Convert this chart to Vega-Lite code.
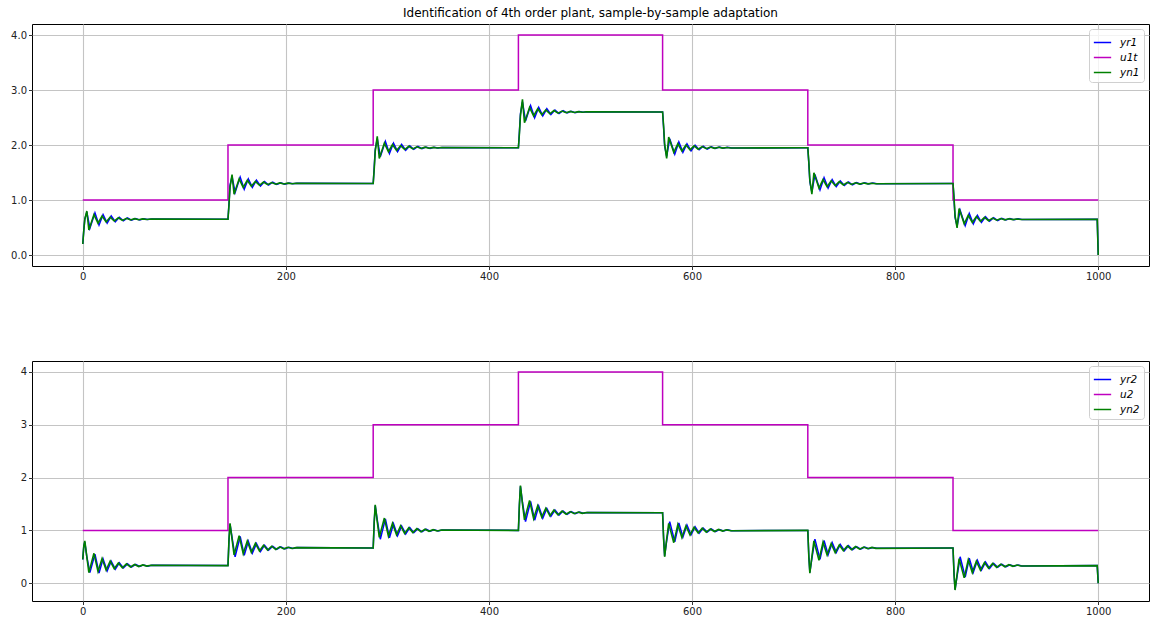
{
  "$schema": "https://vega.github.io/schema/vega-lite/v6.json",
  "background": "white",
  "padding": {"left": 0, "top": 6, "right": 5, "bottom": 0},
  "config": {
    "font": "DejaVu Sans",
    "view": {"stroke": "#000000", "strokeWidth": 1},
    "axis": {"grid": true, "gridColor": "#c4c4c4", "gridWidth": 1.1, "domain": false, "tickColor": "#000000", "tickSize": 3.5, "tickWidth": 0.8, "labelFont": "DejaVu Sans", "labelFontSize": 10, "labelColor": "#222222", "labelPadding": 2, "title": null},
    "title": {"font": "DejaVu Sans", "fontSize": 12, "fontWeight": "normal", "color": "#000000"}
  },
  "datasets": {
    "u": [
      {"x": 0, "u": 1}, {"x": 143, "u": 2}, {"x": 286, "u": 3}, {"x": 429, "u": 4},
      {"x": 571, "u": 3}, {"x": 714, "u": 2}, {"x": 857, "u": 1}, {"x": 1000, "u": 1}
    ],
    "yn": [
      {"x":0,"t":0.2,"b":0.45},{"x":1,"t":0.45,"b":0.7},{"x":2,"t":0.65,"b":0.8},{"x":4,"t":0.8,"b":0.5},{"x":6,"t":0.455,"b":0.2},{"x":11,"t":0.735,"b":0.566},{"x":15,"t":0.579,"b":0.223},{"x":19,"t":0.709,"b":0.466},{"x":23,"t":0.601,"b":0.25},{"x":27,"t":0.689,"b":0.42},{"x":31,"t":0.618,"b":0.276},{"x":35,"t":0.676,"b":0.383},{"x":39,"t":0.629,"b":0.293},{"x":43,"t":0.667,"b":0.366},{"x":47,"t":0.637,"b":0.306},{"x":51,"t":0.66,"b":0.355},{"x":55,"t":0.642,"b":0.316},{"x":59,"t":0.657,"b":0.346},{"x":63,"t":0.645,"b":0.323},{"x":67,"t":0.654,"b":0.34},{"x":142,"t":0.65,"b":0.333},
      {"x":143,"t":0.65,"b":0.333},{"x":144,"t":0.91,"b":0.834},{"x":145,"t":1.235,"b":1.133},{"x":147,"t":1.463,"b":0.834},{"x":149,"t":1.105,"b":0.534},{"x":154,"t":1.385,"b":0.9},{"x":158,"t":1.229,"b":0.557},{"x":162,"t":1.359,"b":0.8},{"x":166,"t":1.251,"b":0.584},{"x":170,"t":1.339,"b":0.754},{"x":174,"t":1.268,"b":0.61},{"x":178,"t":1.326,"b":0.717},{"x":182,"t":1.279,"b":0.627},{"x":186,"t":1.317,"b":0.7},{"x":190,"t":1.287,"b":0.64},{"x":194,"t":1.31,"b":0.689},{"x":198,"t":1.292,"b":0.65},{"x":202,"t":1.307,"b":0.68},{"x":206,"t":1.295,"b":0.657},{"x":210,"t":1.304,"b":0.674},{"x":285,"t":1.3,"b":0.667},
      {"x":286,"t":1.3,"b":0.667},{"x":287,"t":1.56,"b":1.167},{"x":288,"t":1.885,"b":1.483},{"x":290,"t":2.158,"b":1.167},{"x":292,"t":1.755,"b":0.867},{"x":297,"t":2.035,"b":1.233},{"x":301,"t":1.879,"b":0.89},{"x":305,"t":2.009,"b":1.133},{"x":309,"t":1.901,"b":0.917},{"x":313,"t":1.989,"b":1.087},{"x":317,"t":1.918,"b":0.943},{"x":321,"t":1.976,"b":1.05},{"x":325,"t":1.929,"b":0.96},{"x":329,"t":1.967,"b":1.033},{"x":333,"t":1.937,"b":0.973},{"x":337,"t":1.96,"b":1.022},{"x":341,"t":1.942,"b":0.983},{"x":345,"t":1.957,"b":1.013},{"x":349,"t":1.945,"b":0.99},{"x":353,"t":1.954,"b":1.007},{"x":428,"t":1.95,"b":1.0},
      {"x":429,"t":1.95,"b":1.0},{"x":430,"t":2.21,"b":1.5},{"x":431,"t":2.535,"b":1.849},{"x":433,"t":2.83,"b":1.5},{"x":435,"t":2.405,"b":1.2},{"x":440,"t":2.685,"b":1.566},{"x":444,"t":2.529,"b":1.223},{"x":448,"t":2.659,"b":1.466},{"x":452,"t":2.551,"b":1.25},{"x":456,"t":2.639,"b":1.42},{"x":460,"t":2.568,"b":1.276},{"x":464,"t":2.626,"b":1.383},{"x":468,"t":2.579,"b":1.293},{"x":472,"t":2.617,"b":1.366},{"x":476,"t":2.587,"b":1.306},{"x":480,"t":2.61,"b":1.355},{"x":484,"t":2.592,"b":1.316},{"x":488,"t":2.607,"b":1.346},{"x":492,"t":2.595,"b":1.323},{"x":496,"t":2.604,"b":1.34},{"x":570,"t":2.6,"b":1.333},
      {"x":571,"t":2.6,"b":1.333},{"x":572,"t":2.34,"b":0.833},{"x":573,"t":2.015,"b":0.5},{"x":575,"t":1.755,"b":0.833},{"x":577,"t":2.145,"b":1.133},{"x":582,"t":1.866,"b":0.767},{"x":586,"t":2.022,"b":1.11},{"x":590,"t":1.892,"b":0.867},{"x":594,"t":1.999,"b":1.083},{"x":598,"t":1.911,"b":0.913},{"x":602,"t":1.983,"b":1.057},{"x":606,"t":1.924,"b":0.95},{"x":610,"t":1.971,"b":1.04},{"x":614,"t":1.933,"b":0.967},{"x":618,"t":1.963,"b":1.027},{"x":622,"t":1.94,"b":0.978},{"x":626,"t":1.958,"b":1.017},{"x":630,"t":1.944,"b":0.987},{"x":634,"t":1.955,"b":1.01},{"x":638,"t":1.946,"b":0.993},{"x":713,"t":1.95,"b":1.0},
      {"x":714,"t":1.95,"b":1.0},{"x":715,"t":1.69,"b":0.5},{"x":716,"t":1.365,"b":0.191},{"x":718,"t":1.105,"b":0.5},{"x":720,"t":1.495,"b":0.8},{"x":725,"t":1.216,"b":0.434},{"x":729,"t":1.372,"b":0.777},{"x":733,"t":1.242,"b":0.534},{"x":737,"t":1.349,"b":0.75},{"x":741,"t":1.261,"b":0.58},{"x":745,"t":1.333,"b":0.724},{"x":749,"t":1.274,"b":0.617},{"x":753,"t":1.321,"b":0.707},{"x":757,"t":1.283,"b":0.634},{"x":761,"t":1.313,"b":0.694},{"x":765,"t":1.29,"b":0.645},{"x":769,"t":1.308,"b":0.684},{"x":773,"t":1.294,"b":0.654},{"x":777,"t":1.305,"b":0.677},{"x":781,"t":1.296,"b":0.66},{"x":856,"t":1.3,"b":0.667},
      {"x":857,"t":1.3,"b":0.667},{"x":858,"t":1.04,"b":0.166},{"x":859,"t":0.715,"b":-0.13},{"x":861,"t":0.494,"b":0.166},{"x":863,"t":0.845,"b":0.466},{"x":868,"t":0.566,"b":0.1},{"x":872,"t":0.722,"b":0.443},{"x":876,"t":0.592,"b":0.2},{"x":880,"t":0.699,"b":0.416},{"x":884,"t":0.611,"b":0.246},{"x":888,"t":0.683,"b":0.39},{"x":892,"t":0.624,"b":0.283},{"x":896,"t":0.671,"b":0.373},{"x":900,"t":0.633,"b":0.3},{"x":904,"t":0.663,"b":0.36},{"x":908,"t":0.64,"b":0.311},{"x":912,"t":0.658,"b":0.35},{"x":916,"t":0.644,"b":0.32},{"x":920,"t":0.655,"b":0.343},{"x":924,"t":0.646,"b":0.326},{"x":999,"t":0.65,"b":0.333},{"x":1000,"t":0,"b":0}
    ],
    "yr": [
      {"x":0,"t":0.2,"b":0.45},{"x":1,"t":0.45,"b":0.7},{"x":2,"t":0.65,"b":0.78},{"x":4,"t":0.78,"b":0.5},{"x":7,"t":0.488,"b":0.2},{"x":12,"t":0.767,"b":0.55},{"x":16,"t":0.546,"b":0.193},{"x":20,"t":0.735,"b":0.46},{"x":24,"t":0.579,"b":0.233},{"x":28,"t":0.709,"b":0.416},{"x":32,"t":0.605,"b":0.266},{"x":36,"t":0.686,"b":0.386},{"x":40,"t":0.621,"b":0.29},{"x":44,"t":0.673,"b":0.366},{"x":48,"t":0.632,"b":0.306},{"x":52,"t":0.664,"b":0.355},{"x":56,"t":0.639,"b":0.316},{"x":60,"t":0.659,"b":0.346},{"x":64,"t":0.644,"b":0.323},{"x":68,"t":0.655,"b":0.34},{"x":142,"t":0.65,"b":0.333},
      {"x":143,"t":0.65,"b":0.333},{"x":144,"t":0.943,"b":0.817},{"x":145,"t":1.268,"b":1.119},{"x":147,"t":1.43,"b":0.867},{"x":150,"t":1.138,"b":0.5},{"x":155,"t":1.417,"b":0.884},{"x":159,"t":1.196,"b":0.527},{"x":163,"t":1.385,"b":0.794},{"x":167,"t":1.229,"b":0.567},{"x":171,"t":1.359,"b":0.75},{"x":175,"t":1.255,"b":0.6},{"x":179,"t":1.336,"b":0.72},{"x":183,"t":1.271,"b":0.624},{"x":187,"t":1.323,"b":0.7},{"x":191,"t":1.282,"b":0.64},{"x":195,"t":1.314,"b":0.689},{"x":199,"t":1.289,"b":0.65},{"x":203,"t":1.309,"b":0.68},{"x":207,"t":1.294,"b":0.657},{"x":211,"t":1.305,"b":0.674},{"x":285,"t":1.3,"b":0.667},
      {"x":286,"t":1.3,"b":0.667},{"x":287,"t":1.593,"b":1.15},{"x":288,"t":1.918,"b":1.468},{"x":290,"t":2.116,"b":1.2},{"x":293,"t":1.788,"b":0.833},{"x":298,"t":2.067,"b":1.217},{"x":302,"t":1.846,"b":0.86},{"x":306,"t":2.035,"b":1.127},{"x":310,"t":1.879,"b":0.9},{"x":314,"t":2.009,"b":1.083},{"x":318,"t":1.905,"b":0.933},{"x":322,"t":1.986,"b":1.053},{"x":326,"t":1.921,"b":0.957},{"x":330,"t":1.973,"b":1.033},{"x":334,"t":1.932,"b":0.973},{"x":338,"t":1.964,"b":1.022},{"x":342,"t":1.939,"b":0.983},{"x":346,"t":1.959,"b":1.013},{"x":350,"t":1.944,"b":0.99},{"x":354,"t":1.955,"b":1.007},{"x":428,"t":1.95,"b":1.0},
      {"x":429,"t":1.95,"b":1.0},{"x":430,"t":2.243,"b":1.483},{"x":431,"t":2.568,"b":1.833},{"x":433,"t":2.782,"b":1.533},{"x":436,"t":2.438,"b":1.166},{"x":441,"t":2.717,"b":1.55},{"x":445,"t":2.496,"b":1.193},{"x":449,"t":2.685,"b":1.46},{"x":453,"t":2.529,"b":1.233},{"x":457,"t":2.659,"b":1.416},{"x":461,"t":2.555,"b":1.266},{"x":465,"t":2.636,"b":1.386},{"x":469,"t":2.571,"b":1.29},{"x":473,"t":2.623,"b":1.366},{"x":477,"t":2.582,"b":1.306},{"x":481,"t":2.614,"b":1.355},{"x":485,"t":2.589,"b":1.316},{"x":489,"t":2.609,"b":1.346},{"x":493,"t":2.594,"b":1.323},{"x":497,"t":2.605,"b":1.34},{"x":570,"t":2.6,"b":1.333},
      {"x":571,"t":2.6,"b":1.333},{"x":572,"t":2.308,"b":0.85},{"x":573,"t":1.983,"b":0.515},{"x":575,"t":1.794,"b":0.8},{"x":578,"t":2.113,"b":1.167},{"x":583,"t":1.833,"b":0.783},{"x":587,"t":2.054,"b":1.14},{"x":591,"t":1.866,"b":0.873},{"x":595,"t":2.022,"b":1.1},{"x":599,"t":1.892,"b":0.917},{"x":603,"t":1.996,"b":1.067},{"x":607,"t":1.914,"b":0.947},{"x":611,"t":1.979,"b":1.043},{"x":615,"t":1.927,"b":0.967},{"x":619,"t":1.968,"b":1.027},{"x":623,"t":1.936,"b":0.978},{"x":627,"t":1.961,"b":1.017},{"x":631,"t":1.942,"b":0.987},{"x":635,"t":1.957,"b":1.01},{"x":639,"t":1.945,"b":0.993},{"x":713,"t":1.95,"b":1.0},
      {"x":714,"t":1.95,"b":1.0},{"x":715,"t":1.658,"b":0.517},{"x":716,"t":1.333,"b":0.205},{"x":718,"t":1.144,"b":0.467},{"x":721,"t":1.463,"b":0.834},{"x":726,"t":1.183,"b":0.45},{"x":730,"t":1.404,"b":0.807},{"x":734,"t":1.216,"b":0.54},{"x":738,"t":1.372,"b":0.767},{"x":742,"t":1.242,"b":0.584},{"x":746,"t":1.346,"b":0.734},{"x":750,"t":1.264,"b":0.614},{"x":754,"t":1.329,"b":0.71},{"x":758,"t":1.277,"b":0.634},{"x":762,"t":1.318,"b":0.694},{"x":766,"t":1.286,"b":0.645},{"x":770,"t":1.311,"b":0.684},{"x":774,"t":1.292,"b":0.654},{"x":778,"t":1.307,"b":0.677},{"x":782,"t":1.295,"b":0.66},{"x":856,"t":1.3,"b":0.667},
      {"x":857,"t":1.3,"b":0.667},{"x":858,"t":1.008,"b":0.183},{"x":859,"t":0.683,"b":-0.116},{"x":861,"t":0.525,"b":0.133},{"x":864,"t":0.813,"b":0.5},{"x":869,"t":0.533,"b":0.116},{"x":873,"t":0.754,"b":0.473},{"x":877,"t":0.566,"b":0.206},{"x":881,"t":0.722,"b":0.433},{"x":885,"t":0.592,"b":0.25},{"x":889,"t":0.696,"b":0.4},{"x":893,"t":0.614,"b":0.28},{"x":897,"t":0.679,"b":0.376},{"x":901,"t":0.627,"b":0.3},{"x":905,"t":0.668,"b":0.36},{"x":909,"t":0.636,"b":0.311},{"x":913,"t":0.661,"b":0.35},{"x":917,"t":0.642,"b":0.32},{"x":921,"t":0.657,"b":0.343},{"x":925,"t":0.645,"b":0.326},{"x":999,"t":0.65,"b":0.333},{"x":1000,"t":0,"b":0}
    ]
  },
  "spacing": 73,
  "resolve": {"scale": {"color": "independent"}, "legend": {"color": "independent"}},
  "vconcat": [
    {
      "title": {"text": "Identification of 4th order plant, sample-by-sample adaptation", "frame": "group", "anchor": "middle", "offset": 4},
      "width": 1117,
      "height": 242,
      "encoding": {
        "x": {"field": "x", "type": "quantitative", "scale": {"domain": [-50, 1050], "nice": false, "zero": false}, "axis": {"values": [0, 200, 400, 600, 800, 1000], "format": "d", "minExtent": 20, "maxExtent": 20}}
      },
      "layer": [
        {
          "data": {"name": "yr"},
          "mark": {"type": "line", "strokeWidth": 1.5},
          "encoding": {
            "y": {"field": "t", "type": "quantitative", "scale": {"domain": [-0.2, 4.2], "nice": false}, "axis": {"values": [0, 0.5, 1, 1.5, 2, 2.5, 3, 3.5, 4], "format": ".1f", "minExtent": 31, "maxExtent": 31}},
            "color": {"datum": "yr1", "type": "nominal", "scale": {"domain": ["yr1", "u1t", "yn1"], "range": ["#0000ff", "#bf00bf", "#008000"]},
              "legend": {"orient": "top-right", "title": null, "offset": 5, "padding": 4, "strokeColor": "#d0d0d0", "fillColor": "rgba(255,255,255,0.8)", "cornerRadius": 3, "symbolType": "stroke", "symbolSize": 300, "symbolStrokeWidth": 1.5, "labelFont": "DejaVu Sans", "labelFontStyle": "italic", "labelFontSize": 10.5, "labelColor": "#000000", "labelOffset": 8, "rowPadding": 0}}
          }
        },
        {
          "data": {"name": "u"},
          "mark": {"type": "line", "strokeWidth": 1.5, "interpolate": "step-after"},
          "encoding": {
            "y": {"field": "u", "type": "quantitative"},
            "color": {"datum": "u1t", "type": "nominal"}
          }
        },
        {
          "data": {"name": "yn"},
          "mark": {"type": "line", "strokeWidth": 1.6},
          "encoding": {
            "y": {"field": "t", "type": "quantitative"},
            "color": {"datum": "yn1", "type": "nominal"}
          }
        }
      ]
    },
    {
      "width": 1117,
      "height": 240,
      "encoding": {
        "x": {"field": "x", "type": "quantitative", "scale": {"domain": [-50, 1050], "nice": false, "zero": false}, "axis": {"values": [0, 200, 400, 600, 800, 1000], "format": "d", "minExtent": 20, "maxExtent": 20}}
      },
      "layer": [
        {
          "data": {"name": "yr"},
          "mark": {"type": "line", "strokeWidth": 1.5},
          "encoding": {
            "y": {"field": "b", "type": "quantitative", "scale": {"domain": [-0.337, 4.207], "nice": false}, "axis": {"values": [0, 1, 2, 3, 4], "format": "d", "minExtent": 31, "maxExtent": 31}},
            "color": {"datum": "yr2", "type": "nominal", "scale": {"domain": ["yr2", "u2", "yn2"], "range": ["#0000ff", "#bf00bf", "#008000"]},
              "legend": {"orient": "top-right", "title": null, "offset": 5, "padding": 4, "strokeColor": "#d0d0d0", "fillColor": "rgba(255,255,255,0.8)", "cornerRadius": 3, "symbolType": "stroke", "symbolSize": 300, "symbolStrokeWidth": 1.5, "labelFont": "DejaVu Sans", "labelFontStyle": "italic", "labelFontSize": 10.5, "labelColor": "#000000", "labelOffset": 8, "rowPadding": 0}}
          }
        },
        {
          "data": {"name": "u"},
          "mark": {"type": "line", "strokeWidth": 1.5, "interpolate": "step-after"},
          "encoding": {
            "y": {"field": "u", "type": "quantitative"},
            "color": {"datum": "u2", "type": "nominal"}
          }
        },
        {
          "data": {"name": "yn"},
          "mark": {"type": "line", "strokeWidth": 1.6},
          "encoding": {
            "y": {"field": "b", "type": "quantitative"},
            "color": {"datum": "yn2", "type": "nominal"}
          }
        }
      ]
    }
  ]
}
